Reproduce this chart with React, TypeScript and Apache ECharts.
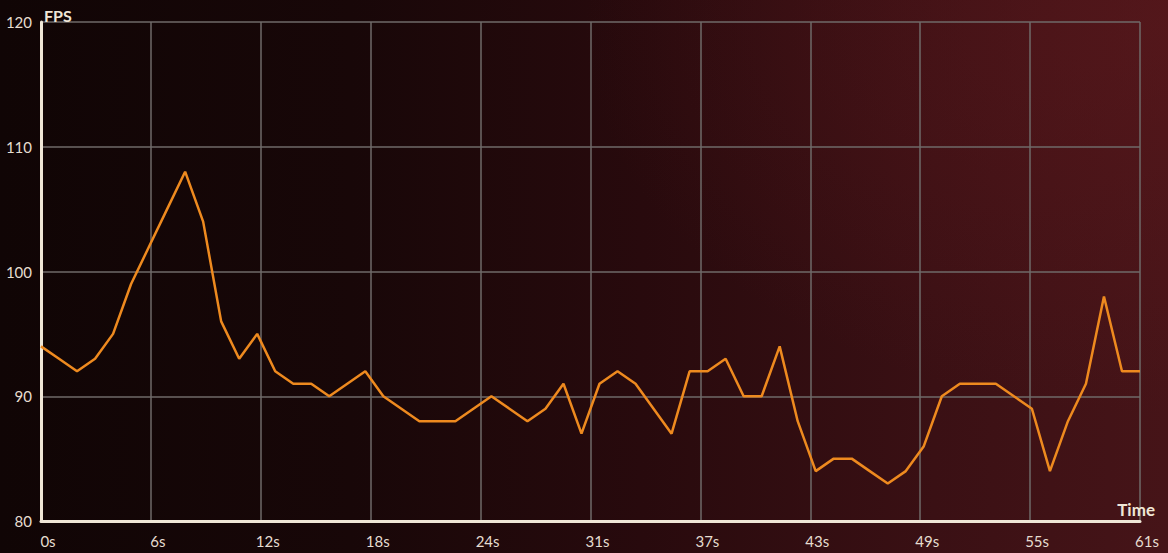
import React, { useEffect, useRef } from "react";
import * as echarts from "echarts";

const seconds: number[] = [
  0, 1, 2, 3, 4, 5, 6, 7, 8, 9, 10, 11, 12, 13, 14, 15, 16, 17, 18, 19, 20,
  21, 22, 23, 24, 25, 26, 27, 28, 29, 30, 31, 32, 33, 34, 35, 36, 37, 38, 39,
  40, 41, 42, 43, 44, 45, 46, 47, 48, 49, 50, 51, 52, 53, 54, 55, 56, 57, 58,
  59, 60, 61,
];
const fps: number[] = [
  94, 93, 92, 93, 95, 99, 102, 105, 108, 104, 96, 93, 95, 92, 91, 91, 90, 91,
  92, 90, 89, 88, 88, 88, 89, 90, 89, 88, 89, 91, 87, 91, 92, 91, 89, 87, 92,
  92, 93, 90, 90, 94, 88, 84, 85, 85, 84, 83, 84, 86, 90, 91, 91, 91, 90, 89,
  84, 88, 91, 98, 92, 92,
];
const xMin = 0;
const xMax = 61;
const xStep = 6.1;
const yMin = 80;
const yMax = 120;
const yStep = 10;

export default function App() {
  const ref = useRef<HTMLDivElement>(null);
  useEffect(() => {
    if (!ref.current) return;
    const chart = echarts.init(ref.current, null, { renderer: "svg" });
    const cream = "#efe6d6";
    const labelColor = "#e6ddd0";
    const gridColor = "#6f6a68";
    chart.setOption({
      animation: false,
      backgroundColor: "transparent",
      grid: { left: 41, right: 28, top: 22, bottom: 32, containLabel: false },
      xAxis: {
        type: "value",
        min: xMin,
        max: xMax,
        interval: xStep,
        name: "Time",
        nameLocation: "end",
        nameGap: 15,
        nameTextStyle: {
          color: cream,
          fontFamily: "Lato",
          fontWeight: "bold",
          fontSize: 17,
          align: "right",
          verticalAlign: "bottom",
          padding: [0, 0, 3, 0],
        },
        axisLine: { show: true, onZero: false, lineStyle: { color: cream, width: 3 } },
        axisTick: { show: false },
        axisLabel: {
          color: labelColor,
          fontFamily: "Lato",
          fontSize: 15,
          margin: 12,
          padding: [0, 0, 0, 14],
          formatter: (v: number) => Math.round(v) + "s",
        },
        splitLine: { show: true, lineStyle: { color: gridColor, width: 1.5 } },
      },
      yAxis: {
        type: "value",
        min: yMin,
        max: yMax,
        interval: yStep,
        name: "FPS",
        nameLocation: "end",
        nameGap: 7,
        nameTextStyle: {
          color: cream,
          fontFamily: "Lato",
          fontWeight: "bold",
          fontSize: 16,
          align: "left",
          verticalAlign: "middle",
          padding: [0, 0, 0, 3],
        },
        axisLine: { show: true, onZero: false, lineStyle: { color: cream, width: 3 } },
        axisTick: { show: false },
        axisLabel: {
          color: labelColor,
          fontFamily: "Lato",
          fontSize: 15,
          margin: 9,
        },
        splitLine: { show: true, lineStyle: { color: gridColor, width: 1.5 } },
      },
      series: [
        {
          type: "line",
          data: seconds.map((s, i) => [s, fps[i]]),
          showSymbol: false,
          symbol: "none",
          lineStyle: { color: "#ee8a1f", width: 2.5 },
          z: 5,
        },
      ],
    });
    return () => chart.dispose();
  }, []);
  return (
    <div
      style={{
        position: "fixed",
        left: 0,
        top: 0,
        width: 1168,
        height: 553,
        background:
          "radial-gradient(ellipse 50% 70% at 100% 5%, rgba(100,26,30,0.45) 0%, rgba(100,26,30,0) 100%), linear-gradient(90deg, #100505 0%, #180708 30%, #280a0d 55%, #3a1014 80%, #461418 100%)",
      }}
    >
      <div ref={ref} style={{ width: 1168, height: 553 }} />
    </div>
  );
}
